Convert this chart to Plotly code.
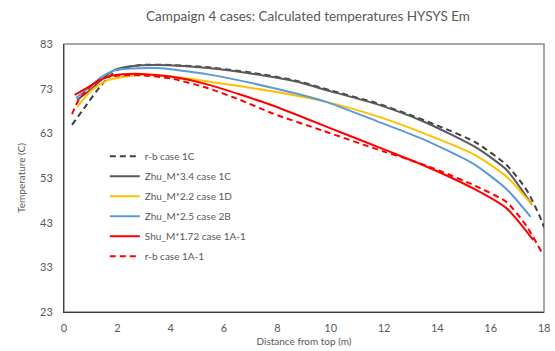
import plotly.graph_objects as go

# r-b case 1C (gray dashed)
x_rb1c = [0.3, 0.75, 1.4, 2.0, 2.9, 4.0, 5.4, 7.0, 8.7, 10.0, 11.7, 12.9, 14.1, 15.4, 16.6, 17.35, 17.85, 18.0]
y_rb1c = [64.9, 68.6, 73.8, 77.2, 78.3, 78.3, 77.8, 76.6, 74.8, 72.6, 69.8, 67.3, 64.5, 61.1, 55.9, 50.3, 44.3, 42.0]

# Zhu_M*3.4 case 1C (gray solid)
x_zhu34 = [0.5, 1.0, 1.4, 1.9, 2.5, 3.5, 5.4, 7.0, 8.7, 10.0, 11.7, 13.5, 15.4, 16.6, 17.55]
y_zhu34 = [70.5, 72.8, 75.0, 77.2, 78.0, 78.3, 77.6, 76.4, 74.6, 72.4, 69.6, 65.6, 60.0, 54.8, 47.0]

# Zhu_M*2.2 case 1D (yellow)
x_zhu22 = [0.5, 1.05, 1.65, 2.2, 2.9, 4.0, 5.4, 7.8, 9.8, 11.7, 13.5, 15.4, 16.6, 17.55]
y_zhu22 = [69.0, 72.7, 74.9, 75.6, 76.1, 75.7, 74.6, 72.4, 70.1, 66.9, 63.0, 58.2, 53.3, 47.0]

# Zhu_M*2.5 case 2B (blue)
x_zhu25 = [0.45, 1.0, 1.4, 1.9, 2.5, 3.5, 5.4, 7.8, 9.8, 11.7, 13.5, 15.4, 16.6, 17.5]
y_zhu25 = [70.9, 73.6, 75.6, 77.1, 77.5, 77.6, 76.2, 73.2, 70.1, 65.8, 61.6, 56.0, 50.5, 44.3]

# Shu_M*1.72 case 1A-1 (red solid)
x_shu = [0.4, 1.15, 1.65, 2.2, 2.9, 4.0, 5.4, 7.8, 10.3, 12.0, 13.5, 15.4, 16.6, 17.6]
y_shu = [71.6, 74.2, 75.7, 76.2, 76.3, 75.7, 73.9, 69.3, 63.4, 59.4, 55.8, 50.5, 46.2, 39.1]

# r-b case 1A-1 (red dashed)
x_rb1a = [0.3, 0.55, 1.0, 1.4, 2.0, 2.9, 4.0, 5.4, 6.6, 7.8, 9.7, 12.0, 12.9, 14.1, 15.4, 16.6, 17.35, 17.9]
y_rb1a = [67.3, 70.5, 73.5, 75.2, 75.9, 76.0, 75.3, 73.1, 70.5, 67.5, 63.6, 58.9, 57.2, 54.6, 51.3, 47.6, 42.2, 36.5]

x_ticks = [0, 2, 4, 6, 8, 10, 12, 14, 16, 18]
y_ticks = [23, 33, 43, 53, 63, 73, 83]

series = [
    ("r-b case 1C", x_rb1c, y_rb1c, "#404040", "6px,4px"),
    ("Zhu_M*3.4 case 1C", x_zhu34, y_zhu34, "#595959", "solid"),
    ("Zhu_M*2.2 case 1D", x_zhu22, y_zhu22, "#FFC000", "solid"),
    ("Zhu_M*2.5 case 2B", x_zhu25, y_zhu25, "#5B9BD5", "solid"),
    ("Shu_M*1.72 case 1A-1", x_shu, y_shu, "#FF0000", "solid"),
    ("r-b case 1A-1", x_rb1a, y_rb1a, "#FF0000", "6px,4px"),
]

fig = go.Figure()
for i, (name, xs, ys, col, dash) in enumerate(series):
    fig.add_trace(go.Scatter(
        x=xs, y=ys, name=name, mode="lines",
        line=dict(color=col, width=2, dash=dash, shape="spline", smoothing=0.6),
        legendgroup=f"g{i}",
    ))

font_fam = "Lato, 'Open Sans', sans-serif"
fig.update_layout(
    width=555, height=351,
    margin=dict(l=64, r=5, t=44, b=39),
    paper_bgcolor="white", plot_bgcolor="white",
    font=dict(family=font_fam, color="#595959", size=11),
    title=dict(text="Campaign 4 cases: Calculated temperatures HYSYS Em",
               x=0.555, xanchor="center", y=0.955, yanchor="middle",
               font=dict(size=13.5, color="#595959", family=font_fam)),
    showlegend=True,
    legend=dict(x=0.085, y=0.635, xanchor="left", yanchor="top",
                bgcolor="rgba(0,0,0,0)", font=dict(size=10, color="#595959"),
                tracegroupgap=1, itemwidth=30),
    xaxis=dict(range=[0, 18], tickvals=x_ticks, showgrid=False, zeroline=False,
               showline=True, linecolor="#404040", linewidth=1, ticks="",
               ticklabeloverflow="allow", ticklabelstandoff=6,
               title=dict(text="Distance from top (m)", font=dict(size=10), standoff=4),
               tickfont=dict(size=11)),
    yaxis=dict(range=[23, 83], tickvals=y_ticks, showgrid=False, zeroline=False,
               showline=True, linecolor="#404040", linewidth=1, ticks="",
               ticklabelstandoff=8,
               title=dict(text="Temperature (C)", font=dict(size=10), standoff=12),
               tickfont=dict(size=11)),
    shapes=[dict(type="rect", xref="paper", yref="paper", x0=0, y0=0, x1=1, y1=1,
                 line=dict(color="#8c8c8c", width=1.5), layer="below")],
)

fig.write_html("out.html")
